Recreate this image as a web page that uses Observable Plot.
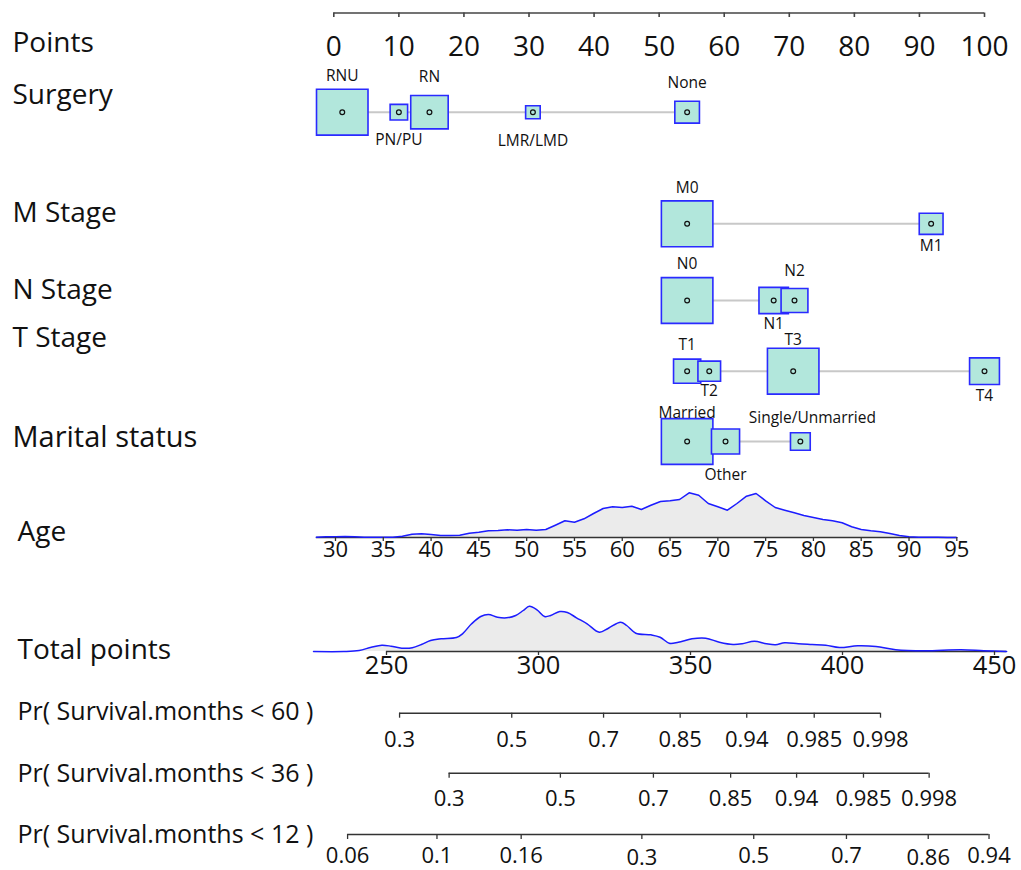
<!DOCTYPE html>
<html><head><meta charset="utf-8">
<script src="https://cdn.jsdelivr.net/npm/d3@7"></script>
<script src="https://cdn.jsdelivr.net/npm/@observablehq/plot@0.6"></script>
<style>
html,body{margin:0;padding:0;background:#fff;overflow:hidden}
g[aria-label="points-ticks"] text{font-stretch:78%}
</style></head><body><div id="chart"></div>
<script>
// ---------------- data ----------------
const pointTicks = [0,10,20,30,40,50,60,70,80,90,100];

const surgeryLevels = ["RNU","PN/PU","RN","LMR/LMD","None"];
const surgeryPoints = [1.3, 10.0, 14.7, 30.6, 54.3];
const surgeryFreq   = [51.2, 5.9, 27.1, 4.1, 11.7];

const mLevels = ["M0","M1"];
const mPoints = [54.3, 91.8];
const mFreq   = [82.4, 17.6];

const nLevels = ["N0","N1","N2"];
const nPoints = [54.3, 67.6, 70.8];
const nFreq   = [62.6, 20.4, 17.0];

const tLevels = ["T1","T2","T3","T4"];
const tPoints = [54.3, 57.7, 70.6, 100.0];
const tFreq   = [15.4, 10.7, 55.3, 18.6];

const maritalLevels = ["Married","Other","Single/Unmarried"];
const maritalPoints = [54.3, 60.2, 71.7];
const maritalFreq   = [69.2, 20.6, 10.2];

const ageTicks = [30,35,40,45,50,55,60,65,70,75,80,85,90,95];
const ageGrid = [28,29,30,31,32,33,34,35,36,37,38,39,40,41,42,43,44,45,46,47,48,49,50,51,52,53,54,55,56,57,58,59,60,61,62,63,64,65,66,67,68,69,70,71,72,73,74,75,76,77,78,79,80,81,82,83,84,85,86,87,88,89,90,91,92,93,94,95];
const ageDensity = [0.3,0.7,0.8,1.0,0.7,0.3,0.2,0.2,0.3,1.3,3.3,3.7,3.0,2.0,2.0,2.3,4.3,5.3,6.7,7.0,7.7,7.3,8.0,7.3,8.0,12.3,16.7,15.3,18.7,24,29,30.7,30,31.3,28,32.3,36,36.7,38,44.7,42.3,34,30.7,27.3,34,41.3,44,36.7,30,27.3,24.7,22,20,18,16.7,14.7,10.7,8,6.7,5.7,4,2,0.7,0.3,0.3,0.2,0,0];

const totalTicks = [250,300,350,400,450];
const totalGrid = [226,236,241,245,248.5,251.5,255,258.5,261.5,264.5,268,273,275,278,281,283.5,286.5,289.5,292.5,295,297,299.5,302,304,307,309.5,312.5,316,320,323,327,329,332,337,340,343,346,350.5,355,359.5,364,367,371,375,378,381,385.5,390,394.5,399,405,411,417.5,427,439,446.5,454];
const totalDensity = [0,0,1,4.3,6.3,5.3,3.3,3.7,7,11,12.7,14,17.7,27.7,35,37,34.3,33.7,36,41,45.3,41.7,35,36,40,39,33.7,27.7,19.3,23.3,29.3,26,18.3,16.7,14.3,8.3,9.3,12.7,13.3,9.3,7,7.7,10.3,7.7,6.7,8.7,7.7,7,6.3,4,5.7,5,1.7,0.7,1.7,0.7,0];

const pr60Labels = ["0.3","0.5","0.7","0.85","0.94","0.985","0.998"];
const pr60Total  = [254.3,291.2,321.4,346.6,368.5,390.7,412.5];
const pr36Labels = ["0.3","0.5","0.7","0.85","0.94","0.985","0.998"];
const pr36Total  = [270.6,307.2,337.8,363.2,384.9,406.9,428.5];
const pr12Labels = ["0.06","0.1","0.16","0.3","0.5","0.7","0.86","0.94"];
const pr12Total  = [237.2,266.6,294.3,334.0,370.8,401.3,428.2,448.2];

// ---------------- layout ----------------
const rowY = {points:12.5, "Surgery":111.7, "M Stage":223.3, "N Stage":300, "T Stage":370.7,
  "Marital status":441, age:537, total:651, pr60:712.7, pr36:772.7, pr12:834};
const leftLabels = [
  {t:"Points", base:51, dx:12, fs:28},
  {t:"Surgery", base:103, dx:12, fs:28},
  {t:"M Stage", base:221, dx:12, fs:28},
  {t:"N Stage", base:298, dx:12, fs:28},
  {t:"T Stage", base:346, dx:12, fs:28},
  {t:"Marital status", base:446, dx:12, fs:29},
  {t:"Age", base:540, dx:17, fs:28},
  {t:"Total points", base:658, dx:17, fs:28},
  {t:"Pr( Survival.months < 60 )", base:719, dx:17, fs:25},
  {t:"Pr( Survival.months < 36 )", base:781, dx:17, fs:25},
  {t:"Pr( Survival.months < 12 )", base:842.5, dx:17, fs:25}
];
const labelDy = {RNU:-36.5,"PN/PU":27.5,RN:-35,"LMR/LMD":29,None:-29,M0:-36,M1:22.7,N0:-36.7,N1:24,N2:-29,
  T1:-25.7,T2:20.3,T3:-31.4,T4:25.3,Married:-28.7,Other:34,"Single/Unmarried":-23.7};
const lowered12 = new Set(["0.3","0.86"]);

const MAX_BOX = 51.5;
const BOX_ASPECT = 0.89;
const FILL = "#b2e7dc", BOXSTROKE = "#2a2aff", DENS = "#1c1cff";

// ---------------- derived tables ----------------
const variables = [
  ["Surgery", surgeryLevels, surgeryPoints, surgeryFreq],
  ["M Stage", mLevels, mPoints, mFreq],
  ["N Stage", nLevels, nPoints, nFreq],
  ["T Stage", tLevels, tPoints, tFreq],
  ["Marital status", maritalLevels, maritalPoints, maritalFreq]
];
const cats = [];
const spans = [];
for (const [name, levels, pts, freq] of variables) {
  const fmax = d3.max(freq);
  levels.forEach((l, i) => cats.push({variable:name, level:l, pts:pts[i], rel:freq[i]/fmax}));
  spans.push({variable:name, x1:d3.min(pts), x2:d3.max(pts)});
}
const ageToPts = d3.scaleLinear().domain([30,95]).range([0.26, 0.26 + 65*1.469]);
const totalToPts = d3.scaleLinear().domain([250,450]).range([(386-333.3)/6.507, (386+608-333.3)/6.507]);
const ageRows = ageGrid.map((a,i) => ({x:ageToPts(a), d:ageDensity[i]}));
const totalRows = totalGrid.map((t,i) => ({x:totalToPts(t), d:totalDensity[i]}));
const prRows = [
  ["pr60", pr60Labels, pr60Total],
  ["pr36", pr36Labels, pr36Total],
  ["pr12", pr12Labels, pr12Total]
].flatMap(([row, labs, tot]) => labs.map((l,i) => ({row, label:l, x:totalToPts(tot[i])})));
const prSpans = ["pr60","pr36","pr12"].map(r => {
  const xs = prRows.filter(d => d.row === r).map(d => d.x);
  return {row:r, x1:d3.min(xs), x2:d3.max(xs)};
});
const prLabelOffset = {pr60:34, pr36:32.5, pr12:28.5};

const rectSymbol = {
  draw(ctx, size) {
    const w = Math.sqrt(size), h = w * BOX_ASPECT;
    ctx.moveTo(-w/2, -h/2); ctx.lineTo(w/2, -h/2); ctx.lineTo(w/2, h/2); ctx.lineTo(-w/2, h/2); ctx.closePath();
  }
};

const FONT = "Open Sans";

const chart = Plot.plot({
  width: 1021, height: 870, margin: 0,
  x: {domain:[0,100], range:[333.3,984], axis:null},
  y: {domain:[0,870], range:[0,870], axis:null},
  r: {type:"sqrt", domain:[0,1], range:[0, MAX_BOX/Math.sqrt(Math.PI)]},
  style: {fontFamily: FONT, background:"white", color:"#111"},
  marks: [
    // Points axis
    Plot.ruleY([rowY.points], {x1:d3.min(pointTicks), x2:d3.max(pointTicks), stroke:"#444", strokeWidth:1.6}),
    Plot.ruleX(pointTicks, {x:d=>d, y1:rowY.points, y2:rowY.points+4.5, stroke:"#444", strokeWidth:1.6}),
    Plot.text(pointTicks, {x:d=>d, y:()=>rowY.points+42.5, text:d=>String(d), lineAnchor:"bottom", fontSize:28, fill:"#111", ariaLabel:"points-ticks"}),
    // left labels
    Plot.text(leftLabels.filter(d=>d.dx===12), {frameAnchor:"left", y:"base", dx:12, text:"t", textAnchor:"start", lineAnchor:"bottom", fontSize:"fs", fill:"#111"}),
    Plot.text(leftLabels.filter(d=>d.dx===17), {frameAnchor:"left", y:"base", dx:17, text:"t", textAnchor:"start", lineAnchor:"bottom", fontSize:"fs", fill:"#111"}),
    // variable rows
    Plot.ruleY(spans, {x1:"x1", x2:"x2", y:d=>rowY[d.variable], stroke:"#c8c8c8", strokeWidth:2}),
    Plot.dot(cats, {x:"pts", y:d=>rowY[d.variable], r:"rel", symbol:rectSymbol, fill:FILL, stroke:BOXSTROKE, strokeWidth:1.6, fillOpacity:1}),
    Plot.dot(cats, {x:"pts", y:d=>rowY[d.variable], r:2.4, fill:"none", stroke:"#111", strokeWidth:1.2}),
    Plot.text(cats.filter(d=>d.level!=="Single/Unmarried"), {x:"pts", y:d=>rowY[d.variable]+labelDy[d.level], text:"level", fontSize:15.5, fill:"#111"}),
    Plot.text(cats.filter(d=>d.level==="Single/Unmarried"), {x:"pts", y:d=>rowY[d.variable]+labelDy[d.level], dx:12, text:"level", fontSize:15.5, fill:"#111"}),
    // Age density
    Plot.areaY(ageRows, {x:"x", y1:()=>rowY.age, y2:d=>rowY.age - d.d, fill:"#ebebeb"}),
    Plot.ruleY([rowY.age], {x1:ageToPts(d3.min(ageGrid)), x2:ageToPts(d3.max(ageGrid)), stroke:"#333", strokeWidth:1.4}),
    Plot.line(ageRows, {x:"x", y:d=>rowY.age - d.d, stroke:DENS, strokeWidth:1.5}),
    Plot.ruleX(ageTicks, {x:d=>ageToPts(d), y1:rowY.age, y2:rowY.age+4, stroke:"#333", strokeWidth:1.3}),
    Plot.text(ageTicks, {x:d=>ageToPts(d), y:()=>rowY.age+19, text:d=>String(d), lineAnchor:"bottom", fontSize:22, fill:"#111"}),
    // Total points density
    Plot.areaY(totalRows, {x:"x", y1:()=>rowY.total, y2:d=>rowY.total - d.d, fill:"#ebebeb", curve:"catmull-rom"}),
    Plot.ruleY([rowY.total], {x1:totalToPts(250), x2:totalToPts(d3.max(totalGrid)), stroke:"#333", strokeWidth:1.4}),
    Plot.line(totalRows, {x:"x", y:d=>rowY.total - d.d, stroke:DENS, strokeWidth:1.5, curve:"catmull-rom"}),
    Plot.ruleX(totalTicks, {x:d=>totalToPts(d), y1:rowY.total, y2:rowY.total+4, stroke:"#333", strokeWidth:1.3}),
    Plot.text(totalTicks, {x:d=>totalToPts(d), y:()=>rowY.total+22, text:d=>String(d), lineAnchor:"bottom", fontSize:25.5, fill:"#111"}),
    // Probability axes
    Plot.ruleY(prSpans, {x1:"x1", x2:"x2", y:d=>rowY[d.row], stroke:"#333", strokeWidth:1.4}),
    Plot.ruleX(prRows, {x:"x", y1:d=>rowY[d.row], y2:d=>rowY[d.row]+5, stroke:"#333", strokeWidth:1.3}),
    Plot.text(prRows, {x:"x", y:d=>rowY[d.row] + prLabelOffset[d.row] + (d.row==="pr12" && lowered12.has(d.label) ? 1.5 : 0),
      text:"label", lineAnchor:"bottom", fontSize:22, fill:"#111"})
  ]
});
document.getElementById("chart").append(chart);
</script>
</body></html>
